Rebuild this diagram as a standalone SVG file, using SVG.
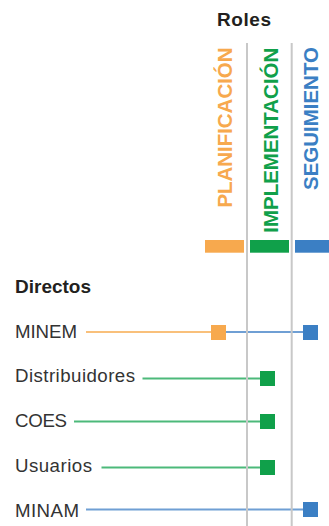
<svg xmlns="http://www.w3.org/2000/svg" width="329" height="526" viewBox="0 0 329 526">
<style>
.h{font-family:"Liberation Sans",Arial,sans-serif;font-weight:bold;font-size:19px;fill:#231f20}
.lbl{font-family:"Liberation Sans",Arial,sans-serif;font-size:18.7px;fill:#333333}
.role{font-family:"Liberation Sans",Arial,sans-serif;font-weight:bold;font-size:20.5px}
.grid{stroke:#c8c8c8;stroke-width:2}
.lo{stroke:#f9c07b;stroke-width:2}
.lg{stroke:#4cb97a;stroke-width:2}
.lb{stroke:#6f9fd4;stroke-width:2}
.so{fill:#f7a94e}.sg{fill:#10a04a}.sb{fill:#3b7fc4}
</style>
<rect width="329" height="526" fill="#ffffff"/>
<text class="h" x="217" y="25.5" textLength="54">Roles</text>
<text class="h" x="15" y="292.5" textLength="76">Directos</text>
<g id="connectors">
<line class="lo" x1="86" y1="332" x2="212" y2="332"/>
<line class="lb" x1="226" y1="332" x2="304" y2="332"/>
<line class="lg" x1="142.5" y1="378.5" x2="261" y2="378.5"/>
<line class="lg" x1="74" y1="421.5" x2="261" y2="421.5"/>
<line class="lg" x1="101.5" y1="467.5" x2="261" y2="467.5"/>
<line class="lb" x1="86" y1="509.5" x2="304" y2="509.5"/>
</g>
<g id="grid">
<line class="grid" x1="247" y1="43" x2="247" y2="526"/>
<line class="grid" x1="291.7" y1="43" x2="291.7" y2="526"/>
</g>
<g id="role-planificacion">
<text class="role" fill="#f7a94e" transform="translate(232,207.5) rotate(-90)" textLength="160">PLANIFICACIÓN</text>
<rect x="205" y="240" width="39" height="12.7" fill="#f7a94e"/>
</g>
<g id="role-implementacion">
<text class="role" fill="#10a04a" transform="translate(278,232.7) rotate(-90)" textLength="185">IMPLEMENTACIÓN</text>
<rect x="250" y="240" width="39" height="12.7" fill="#10a04a"/>
</g>
<g id="role-seguimiento">
<text class="role" fill="#3b7fc4" transform="translate(317.7,190) rotate(-90)" textLength="143">SEGUIMIENTO</text>
<rect x="295" y="240" width="34" height="12.7" fill="#3b7fc4"/>
</g>
<g id="minem">
<text class="lbl" x="15" y="338.3" textLength="62">MINEM</text>
<rect class="so" x="211" y="325" width="15" height="15"/>
<rect class="sb" x="303" y="325" width="15" height="15"/>
</g>
<g id="distribuidores">
<text class="lbl" x="15" y="382.3" textLength="120">Distribuidores</text>
<rect class="sg" x="260" y="371" width="15" height="15"/>
</g>
<g id="coes">
<text class="lbl" x="15" y="427.3" textLength="52">COES</text>
<rect class="sg" x="260" y="414" width="15" height="15"/>
</g>
<g id="usuarios">
<text class="lbl" x="15" y="471.5" textLength="77">Usuarios</text>
<rect class="sg" x="260" y="460" width="15" height="15"/>
</g>
<g id="minam">
<text class="lbl" x="15" y="516.5" textLength="64">MINAM</text>
<rect class="sb" x="303" y="502" width="15" height="15"/>
</g>
</svg>
